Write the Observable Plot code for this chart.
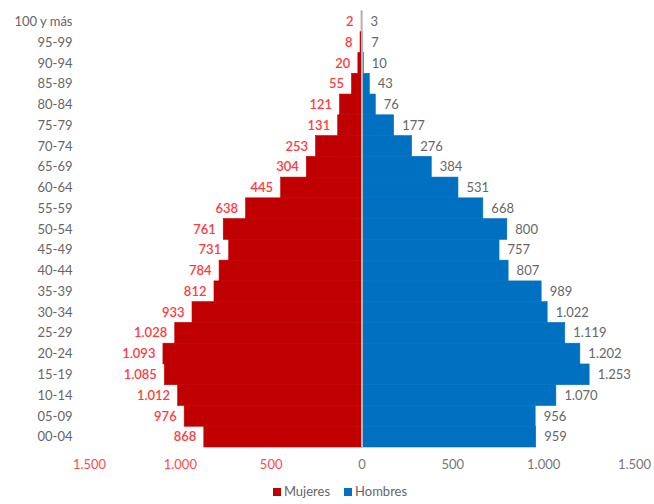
<!DOCTYPE html>
<html>
<head>
<meta charset="utf-8">
<script src="https://cdn.jsdelivr.net/npm/d3@7"></script>
<script src="https://cdn.jsdelivr.net/npm/@observablehq/plot@0.6"></script>
<style>
  html, body { margin: 0; padding: 0; background: #fff; overflow: hidden; }
  #chart { width: 654px; }
  #chart svg { display: block; }
  .legend { display: flex; justify-content: center; gap: 14px; font-family: Lato, "Open Sans", sans-serif; font-size: 13px; color: #666; height: 26px; align-items: center; margin-left: 26px; }
  .legend span.sw { display: inline-block; width: 8px; height: 8px; margin-right: 3px; }
</style>
</head>
<body>
<div id="chart"></div>
<script>
const ageGroups = ["00-04","05-09","10-14","15-19","20-24","25-29","30-34","35-39","40-44","45-49","50-54","55-59","60-64","65-69","70-74","75-79","80-84","85-89","90-94","95-99","100 y más"];
const mujeres = [868,976,1012,1085,1093,1028,933,812,784,731,761,638,445,304,253,131,121,55,20,8,2];
const hombres = [959,956,1070,1253,1202,1119,1022,989,807,757,800,668,531,384,276,177,76,43,10,7,3];
const xTicksLeft = [-1500,-1000,-500];
const xTicksRight = [0,500,1000,1500];

const fmt = v => d3.format(",")(Math.abs(v)).replace(/,/g, ".");
const rows = ageGroups.map((g, i) => ({age: g, m: mujeres[i], h: hombres[i]}));
const font = "Lato, 'Open Sans', sans-serif";

const plot = Plot.plot({
  width: 654,
  height: 478,
  marginLeft: 89,
  marginRight: 20,
  marginTop: 11,
  marginBottom: 31,
  style: {fontFamily: font, fontSize: "13px", background: "#fff"},
  x: {domain: [-1500, 1500]},
  y: {domain: ageGroups.slice().reverse(), padding: 0, round: false},
  marks: [
    Plot.barX(rows, {x: d => -d.m, y: "age", fill: "#c00000", stroke: "#c00000", strokeWidth: 0.6}),
    Plot.barX(rows, {x: "h", y: "age", fill: "#0070c0", stroke: "#0070c0", strokeWidth: 0.6}),
    Plot.ruleX([0], {stroke: "#d4d4d4", strokeWidth: 1.5}),
    Plot.text(rows, {x: d => -d.m, y: "age", text: d => fmt(d.m), textAnchor: "end", dx: -8, fill: "#ff3c3c", fontWeight: 600}),
    Plot.text(rows, {x: "h", y: "age", text: d => fmt(d.h), textAnchor: "start", dx: 8, fill: "#666"}),
    Plot.axisY({tickSize: 0, tickPadding: 17, label: null, fill: "#666"}),
    Plot.axisX({ticks: xTicksLeft, tickSize: 0, tickPadding: 12, tickFormat: fmt, label: null, fill: "#ff4a4a"}),
    Plot.axisX({ticks: xTicksRight, tickSize: 0, tickPadding: 12, tickFormat: fmt, label: null, fill: "#777"})
  ]
});
document.getElementById("chart").appendChild(plot);

const legend = document.createElement("div");
legend.className = "legend";
legend.innerHTML = '<div><span class="sw" style="background:#c00000"></span>Mujeres</div><div><span class="sw" style="background:#0070c0"></span>Hombres</div>';
document.getElementById("chart").appendChild(legend);
</script>
</body>
</html>
